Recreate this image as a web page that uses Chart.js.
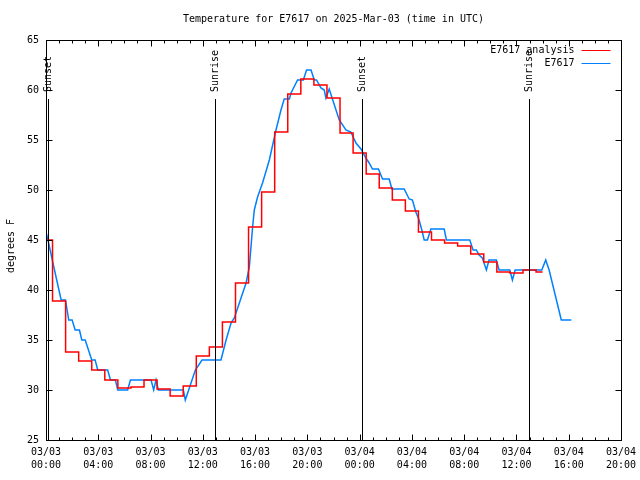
<!DOCTYPE html>
<html>
<head>
<meta charset="utf-8">
<script src="https://cdn.jsdelivr.net/npm/chart.js@4/dist/chart.umd.min.js"></script>
<style>
  html, body { margin: 0; padding: 0; background: #fff; }
  #wrap { width: 640px; height: 480px; }
</style>
</head>
<body>
<div id="wrap"><canvas id="c" width="640" height="480"></canvas></div>
<script>
// Hours since 03/03 00:00 UTC
const analysisHours = [0,1,2,3,4,5,6,7,8,9,10,11,12,13,14,15,16,17,18,19,20,21,22,23,24,25,26,27,28,29,30,31,32,33,34,35,36,37,38];
const analysisTemps = [45.0,38.9,33.8,32.9,32.0,31.0,30.2,30.3,31.0,30.1,29.4,30.4,33.4,34.3,36.8,40.7,46.3,49.8,55.8,59.6,61.1,60.5,59.2,55.7,53.7,51.6,50.2,49.0,47.9,45.8,45.0,44.7,44.4,43.6,42.8,41.8,41.7,42.0,41.8];

const obsHours = [0.0,0.15,0.65,1.16,1.49,1.74,2.0,2.23,2.56,2.74,3.0,3.5,3.76,3.96,4.72,4.93,5.31,5.49,6.25,6.46,8.04,8.24,8.42,8.6,10.51,10.66,11.43,11.94,13.39,13.78,14.16,14.41,15.31,15.56,15.81,15.94,16.19,16.57,17.09,17.6,17.98,18.23,18.62,18.75,19.25,19.69,19.94,20.28,20.53,20.7,21.04,21.29,21.42,21.67,22.44,22.95,23.33,23.72,24.1,24.48,24.73,24.98,25.44,25.75,26.26,26.47,27.41,27.79,28.04,28.3,28.55,28.76,28.94,29.19,29.45,30.47,30.64,32.43,32.68,32.93,33.14,33.39,33.7,33.9,34.46,34.67,35.49,35.69,35.9,37.94,38.24,38.5,39.43,40.2];
const obsTemps = [45.8,45.0,42.0,39.0,39.0,37.0,37.0,36.0,36.0,35.0,35.0,33.0,33.0,32.0,32.0,31.0,31.0,30.0,30.0,31.0,31.0,30.0,31.0,30.0,30.0,29.0,32.0,33.0,33.0,35.0,36.7,37.2,40.7,42.3,46.3,48.0,49.3,50.7,53.0,56.0,58.0,59.1,59.1,59.7,61.0,61.0,62.0,62.0,61.0,61.0,60.2,60.0,59.2,60.1,57.0,56.0,55.8,54.7,54.1,53.2,52.7,52.1,52.1,51.1,51.1,50.1,50.1,49.1,49.0,47.8,47.0,46.0,45.0,45.0,46.1,46.1,45.0,45.0,44.0,44.0,43.5,43.2,42.0,43.0,43.0,42.0,42.0,41.0,42.0,42.0,43.0,42.0,37.0,37.0];

const sunEventHours = [0.14, 12.95, 24.2, 36.97];
const sunEventLabels = ['Sunset', 'Sunrise', 'Sunset', 'Sunrise'];

const xTickLabels = [['03/03','00:00'],['03/03','04:00'],['03/03','08:00'],['03/03','12:00'],['03/03','16:00'],['03/03','20:00'],['03/04','00:00'],['03/04','04:00'],['03/04','08:00'],['03/04','12:00'],['03/04','16:00'],['03/04','20:00']];
const seriesNames = ['E7617 analysis', 'E7617'];
const titleText = 'Temperature for E7617 on 2025-Mar-03 (time in UTC)';
const yAxisTitle = 'degrees F';

const FONT = 'DejaVu Sans Mono';

const overlay = {
  id: 'overlay',
  afterDatasetsDraw(chart) {
    const ctx = chart.ctx;
    const a = chart.chartArea;
    const xs = chart.scales.x, ys = chart.scales.y;
    const L = Math.round(a.left) + 0.5, R = Math.round(a.right) + 0.5;
    const T = Math.round(a.top) + 0.5, B = Math.round(a.bottom) + 0.5;
    ctx.save();
    ctx.strokeStyle = '#000';
    ctx.lineWidth = 1;
    // title centred over the plot area
    ctx.font = '10px "' + FONT + '"';
    ctx.fillStyle = '#000';
    ctx.textAlign = 'center';
    ctx.textBaseline = 'middle';
    ctx.fillText(titleText, (a.left + a.right) / 2, 19);
    // y axis title
    ctx.save();
    ctx.translate(11, (a.top + a.bottom) / 2 + 6);
    ctx.rotate(-Math.PI / 2);
    ctx.fillText(yAxisTitle, 0, 0);
    ctx.restore();
    // box
    ctx.strokeRect(L, T, R - L, B - T);
    // x ticks (major every 4h, minor every 1h) on bottom and top
    for (let h = xs.min; h <= xs.max; h += 1) {
      const px = Math.round(xs.getPixelForValue(h)) + 0.5;
      const len = (h % 4 === 0) ? 6 : 3;
      ctx.beginPath();
      ctx.moveTo(px, B); ctx.lineTo(px, B - len);
      ctx.moveTo(px, T); ctx.lineTo(px, T + len);
      ctx.stroke();
    }
    // y ticks
    for (let v = ys.min; v <= ys.max; v += 5) {
      const py = Math.round(ys.getPixelForValue(v)) + 0.5;
      ctx.beginPath();
      ctx.moveTo(L, py); ctx.lineTo(L + 6, py);
      ctx.moveTo(R, py); ctx.lineTo(R - 6, py);
      ctx.stroke();
    }
    // sun event lines
    for (let i = 0; i < sunEventHours.length; i++) {
      const px = Math.round(xs.getPixelForValue(sunEventHours[i])) + 0.5;
      const topY = ys.getPixelForValue(59.1);
      ctx.beginPath();
      ctx.moveTo(px, B); ctx.lineTo(px, topY);
      ctx.stroke();
      ctx.save();
      ctx.translate(px, topY - 7);
      ctx.rotate(-Math.PI / 2);
      ctx.fillStyle = '#000';
      ctx.textAlign = 'left';
      ctx.textBaseline = 'middle';
      ctx.fillText(sunEventLabels[i], 0, 0);
      ctx.restore();
    }
    // legend inside top-right
    const ds = chart.data.datasets;
    ctx.textAlign = 'right';
    ctx.textBaseline = 'middle';
    for (let i = 0; i < ds.length; i++) {
      const yy = Math.round(a.top + 9.5 + i * 13) + 0.5;
      ctx.fillStyle = '#000';
      ctx.fillText(ds[i].label, R - 47, yy);
      ctx.strokeStyle = ds[i].borderColor;
      ctx.lineWidth = 1;
      ctx.beginPath();
      ctx.moveTo(R - 40, yy); ctx.lineTo(R - 11, yy);
      ctx.stroke();
    }
    ctx.restore();
  }
};

new Chart(document.getElementById('c'), {
  type: 'line',
  data: {
    datasets: [
      {
        label: seriesNames[0],
        data: analysisHours.map((h, i) => ({ x: h, y: analysisTemps[i] })),
        borderColor: '#ff0000',
        borderWidth: 1.5,
        stepped: 'middle',
        pointRadius: 0,
        fill: false
      },
      {
        label: seriesNames[1],
        data: obsHours.map((h, i) => ({ x: h, y: obsTemps[i] })),
        borderColor: '#0080ff',
        borderWidth: 1.5,
        tension: 0,
        pointRadius: 0,
        fill: false
      }
    ]
  },
  options: {
    responsive: false,
    animation: false,
    events: [],
    layout: { padding: { left: 0, right: 19, top: 40, bottom: 0 } },
    plugins: {
      legend: { display: false },
      tooltip: { enabled: false },
      title: { display: false }
    },
    scales: {
      x: {
        type: 'linear',
        min: 0,
        max: 44,
        afterFit(s) { s.height = 40; s.paddingRight = 0; },
        afterBuildTicks(s) {
          s.ticks = xTickLabels.map((_, i) => ({ value: i * 4 }));
        },
        grid: { display: false, drawTicks: false },
        border: { display: false },
        ticks: {
          autoSkip: false,
          maxRotation: 0,
          padding: 6,
          color: '#000',
          font: { family: FONT, size: 10, lineHeight: 1.3 },
          callback: (v) => xTickLabels[Math.round(v / 4)]
        }
      },
      y: {
        min: 25,
        max: 65,
        afterFit(s) { s.width = 46; },
        grid: { display: false, drawTicks: false },
        border: { display: false },
        ticks: {
          stepSize: 5,
          padding: 7,
          color: '#000',
          font: { family: FONT, size: 10 }
        }
      }
    }
  },
  plugins: [overlay]
});
</script>
</body>
</html>
